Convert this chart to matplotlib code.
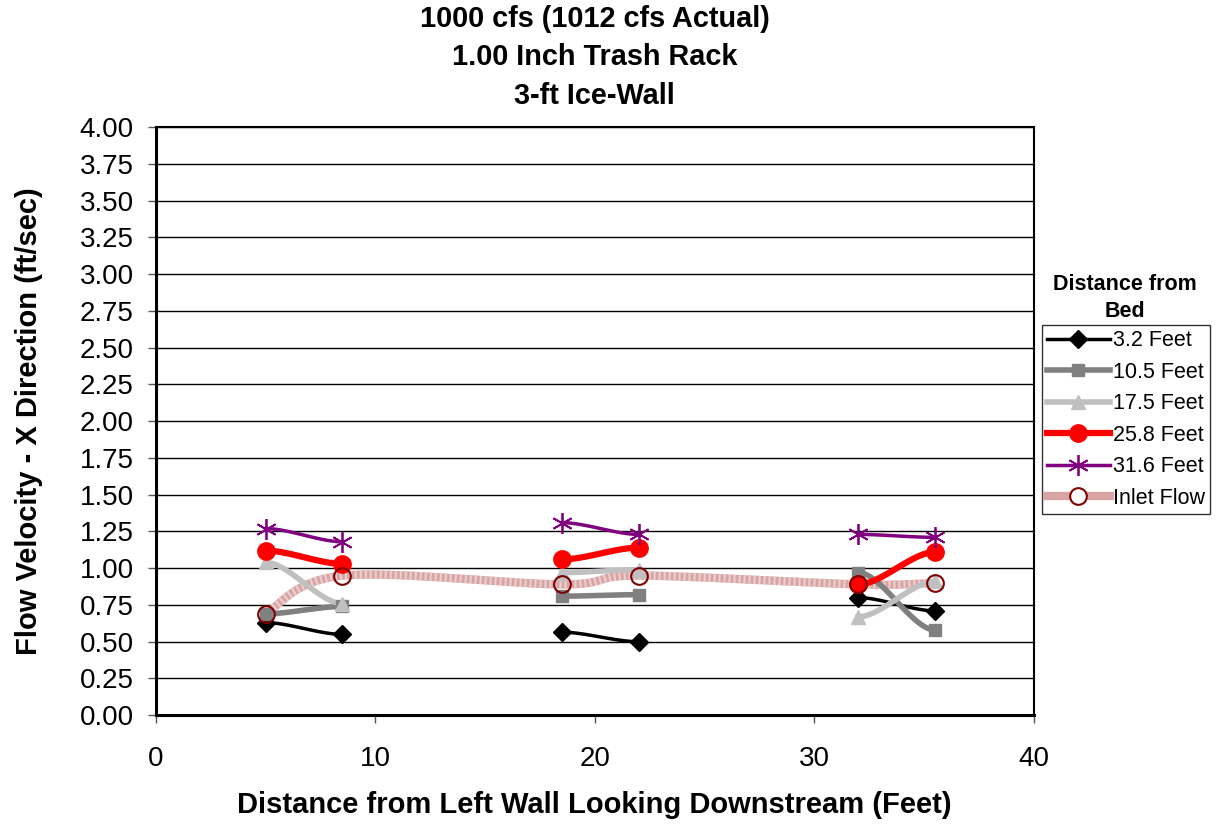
import numpy as np
import matplotlib
matplotlib.use('Agg')
import matplotlib.pyplot as plt

plt.rcParams['font.family'] = ['Liberation Sans', 'DejaVu Sans']

x_pos = [5, 8.5, 18.5, 22, 32, 35.5]

v_3_2 = [0.63, 0.55, 0.565, 0.50, 0.80, 0.71]
v_10_5 = [0.69, 0.74, 0.81, 0.82, 0.97, 0.58]
v_17_5 = [1.04, 0.76, 0.97, 0.99, 0.67, 0.91]
v_25_8 = [1.12, 1.03, 1.06, 1.14, 0.89, 1.11]
v_31_6 = [1.27, 1.18, 1.31, 1.23, 1.23, 1.21]
v_inlet = [0.69, 0.95, 0.89, 0.95, 0.89, 0.90]


def bez(p1, p2, c1, c2, n=40):
    t = np.linspace(0, 1, n)
    bx = (1-t)**3*p1[0] + 3*(1-t)**2*t*c1[0] + 3*(1-t)*t**2*c2[0] + t**3*p2[0]
    by = (1-t)**3*p1[1] + 3*(1-t)**2*t*c1[1] + 3*(1-t)*t**2*c2[1] + t**3*p2[1]
    return bx, by


def smooth2(xa, ya):
    # two point segment: excel style s-curve, flat at both ends
    dx = xa[1] - xa[0]
    return bez((xa[0], ya[0]), (xa[1], ya[1]),
               (xa[0] + dx*0.3, ya[0]), (xa[1] - dx*0.3, ya[1]))


def smooth(xs, ys):
    # catmull-rom curve through the points (like excel smoothed lines)
    px = [xs[0]] + list(xs) + [xs[-1]]
    py = [ys[0]] + list(ys) + [ys[-1]]
    ox, oy = [], []
    for i in range(1, len(px) - 2):
        c1 = (px[i] + (px[i+1] - px[i-1]) / 6, py[i] + (py[i+1] - py[i-1]) / 6)
        c2 = (px[i+1] - (px[i+2] - px[i]) / 6, py[i+1] - (py[i+2] - py[i]) / 6)
        bx, by = bez((px[i], py[i]), (px[i+1], py[i+1]), c1, c2)
        ox.extend(bx); oy.extend(by)
    return ox, oy


fig = plt.figure(figsize=(12.17, 8.24), dpi=100)
ax = fig.add_axes([0.128, 0.132, 0.7215, 0.7136])

series = [
    ('3.2 Feet', v_3_2, '#000000', 'D', 2.5, 9, '#000000', '#000000', 1),
    ('10.5 Feet', v_10_5, '#808080', 's', 4, 9, '#808080', '#808080', 1),
    ('17.5 Feet', v_17_5, '#c0c0c0', '^', 4, 10, '#c0c0c0', '#c0c0c0', 1),
    ('25.8 Feet', v_25_8, '#ff0000', 'o', 4.5, 12.5, '#ff0000', '#ff0000', 1),
    ('31.6 Feet', v_31_6, '#800080', (6, 2, 0), 2.5, 15, '#800080', '#800080', 1.3),
]

inlet_col = '#d8a4a4'
handles = []
# inlet flow drawn first so other markers sit on top
xi, yi = smooth(x_pos, v_inlet)
ax.plot(xi, yi, color=inlet_col, lw=6, zorder=2)
ax.plot(xi, yi, color='#ecd0d0', lw=6, ls=(0, (0.25, 0.35)), zorder=2)
ax.plot(x_pos, v_inlet, ls='none', marker='o', ms=12, mfc='none',
        mec='#800000', mew=1.5, zorder=6)

for name, vals, col, mk, lw, ms, mfc, mec, mew in series:
    for k in range(0, 6, 2):
        sx, sy = smooth2(x_pos[k:k+2], vals[k:k+2])
        ax.plot(sx, sy, color=col, lw=lw, zorder=3)
    ax.plot(x_pos, vals, ls='none', marker=mk, ms=ms, mfc=mfc, mec=mec,
            mew=mew, zorder=4)
    handles.append(plt.Line2D([], [], color=col, lw=lw, marker=mk, ms=ms,
                              mfc=mfc, mec=mec, mew=mew))
handles.append(plt.Line2D([], [], color=inlet_col, lw=6, marker='o', ms=12,
                          mfc='white', mec='#800000', mew=1.5))
names = [s[0] for s in series] + ['Inlet Flow']

ax.set_xlim(0, 40)
ax.set_ylim(0, 4)
ax.set_xticks([0, 10, 20, 30, 40])
ax.set_yticks(np.arange(0, 4.01, 0.25))
ax.set_yticklabels(['%.2f' % v for v in np.arange(0, 4.01, 0.25)])
ax.yaxis.grid(True, color='black', lw=1)
ax.set_axisbelow(True)
for sp in ax.spines.values():
    sp.set_color('black')
    sp.set_linewidth(1.5)
ax.spines['left'].set_linewidth(2.2)
ax.spines['bottom'].set_linewidth(2.2)
ax.tick_params(direction='out', length=6, labelsize=20, width=1,
               color='#555555')
ax.tick_params(axis='y', pad=10)
ax.tick_params(axis='x', pad=16)

ax.set_xlabel('Distance from Left Wall Looking Downstream (Feet)', fontsize=21,
              fontweight='bold', labelpad=14)
ax.set_ylabel('Flow Velocity - X Direction (ft/sec)', fontsize=21,
              fontweight='bold', labelpad=26)
ax.set_title('1000 cfs (1012 cfs Actual)\n1.00 Inch Trash Rack\n3-ft Ice-Wall',
             fontsize=20.8, fontweight='bold', pad=17, linespacing=1.47)

fig.text(0.9245, 0.638, 'Distance from\nBed', ha='center', va='center',
         fontsize=15.5, fontweight='bold', linespacing=1.35)
leg = fig.legend(handles, names, loc='upper left',
                 bbox_to_anchor=(0.856, 0.606), fontsize=15.5,
                 frameon=True, fancybox=False, edgecolor='black',
                 handlelength=2.9, handletextpad=0.15, borderpad=0.25,
                 labelspacing=0.49, borderaxespad=0)
leg.get_frame().set_linewidth(1)

fig.savefig('out.png', dpi=100)
